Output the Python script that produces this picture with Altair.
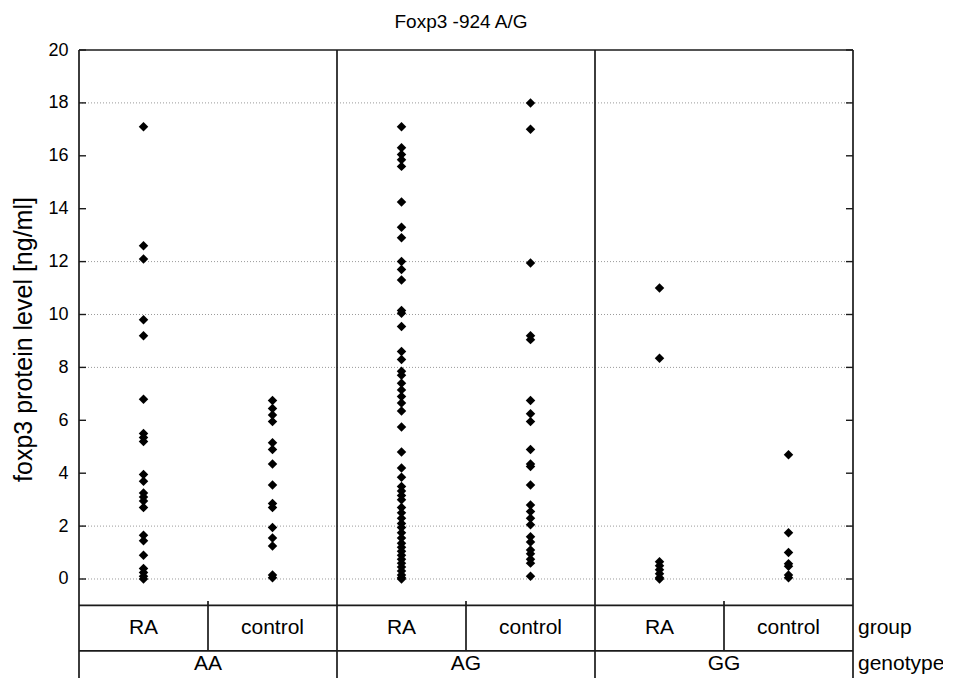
import altair as alt
import pandas as pd

TITLE = "Foxp3 -924 A/G"
Y_TITLE = "foxp3 protein level [ng/ml]"
genotypes = ["AA", "AG", "GG"]
groups = ["RA", "control"]
row_labels = ["group", "genotype"]

AA_RA = [17.1, 12.6, 12.1, 9.8, 9.2, 6.8, 5.5, 5.35, 5.2, 3.95, 3.7, 3.25, 3.1, 2.95,
         2.7, 1.65, 1.45, 0.9, 0.4, 0.25, 0.1, 0.0]
AA_control = [6.75, 6.45, 6.2, 5.95, 5.15, 4.9, 4.35, 3.55, 2.85, 2.7, 1.95, 1.55,
              1.25, 0.15, 0.05]
AG_RA = [17.1, 16.3, 16.05, 15.85, 15.6, 14.25, 13.3, 12.9, 12.0, 11.7, 11.3, 10.15,
         10.05, 9.55, 8.6, 8.3, 7.85, 7.7, 7.4, 7.15, 6.9, 6.65, 6.35, 5.75, 4.8, 4.2,
         3.85, 3.5, 3.33, 3.16, 3.0, 2.7, 2.5, 2.3, 2.1, 1.95, 1.75, 1.55, 1.35, 1.2,
         1.05, 0.9, 0.75, 0.6, 0.45, 0.3, 0.15, 0.05, 0.0]
AG_control = [18.0, 17.0, 11.95, 9.2, 9.05, 6.75, 6.25, 5.95, 4.9, 4.35, 4.25, 3.55,
              2.8, 2.55, 2.3, 2.05, 1.6, 1.4, 1.1, 0.95, 0.75, 0.6, 0.1]
GG_RA = [11.0, 8.35, 0.65, 0.5, 0.35, 0.2, 0.05, 0.0]
GG_control = [4.7, 1.75, 1.0, 0.58, 0.48, 0.15, 0.05]

y_ticks = [0, 2, 4, 6, 8, 10, 12, 14, 16, 18, 20]
grid_values = [0, 2, 8, 10, 12, 18]

# layout constants (data units of the shared scales)
Y_TOP = 20
Y_BOTTOM = -3.743
ROW1_TOP = -1.0
ROW1_BOTTOM = -2.72
ROW1_MID = -1.85
ROW2_MID = -3.2
TICK_UP = -0.83

series = {
    ("AA", "RA"): AA_RA, ("AA", "control"): AA_control,
    ("AG", "RA"): AG_RA, ("AG", "control"): AG_control,
    ("GG", "RA"): GG_RA, ("GG", "control"): GG_control,
}

pts = []
grp_rows = []
for gi, g in enumerate(genotypes):
    for ki, k in enumerate(groups):
        p = gi * 2 + ki + 0.5
        for v in series[(g, k)]:
            pts.append({"genotype": g, "group": k, "pos": p, "value": v})
        grp_rows.append({"pos": p, "value": ROW1_MID, "label": k})
pts = pd.DataFrame(pts)
grp_df = pd.DataFrame(grp_rows)
geno_df = pd.DataFrame({"pos": [1, 3, 5], "value": [ROW2_MID] * 3, "label": genotypes})
side_df = pd.DataFrame({"pos": [6, 6], "value": [ROW1_MID, ROW2_MID], "label": row_labels})
title_df = pd.DataFrame({"label": [TITLE]})

grid_df = pd.DataFrame({"value": grid_values, "pos": [0] * len(grid_values), "pos2": [6] * len(grid_values)})
tick_df = pd.DataFrame({"value": y_ticks})
vlines_df = pd.DataFrame({"pos": [0, 2, 4, 6], "value": [Y_BOTTOM] * 4, "value2": [Y_TOP] * 4})
sublines_df = pd.DataFrame({"pos": [1, 3, 5], "value": [TICK_UP] * 3, "value2": [ROW1_BOTTOM] * 3})
hlines_df = pd.DataFrame({"value": [Y_TOP, ROW1_TOP, ROW1_BOTTOM], "pos": [0, 0, 0], "pos2": [6, 6, 6]})

W = 774
H = 628
FONT = "Liberation Sans"
LINE = "#1a1a1a"

yaxis = alt.Axis(values=y_ticks, ticks=False, tickSize=0, domain=False, grid=False,
                 labelPadding=11, labelFontSize=18, labelFont=FONT, labelColor="black",
                 title=Y_TITLE, titleFontSize=25, titleFont=FONT, titleFontWeight="normal",
                 titleColor="black", titleAngle=270, titleAlign="center",
                 titleBaseline="alphabetic", titleX=-48, titleY=289)
Y = alt.Y("value:Q", scale=alt.Scale(domain=[Y_BOTTOM, Y_TOP], nice=False, zero=False), axis=yaxis)
X = alt.X("pos:Q", scale=alt.Scale(domain=[0, 6], nice=False, zero=False), axis=None)

grid = alt.Chart(grid_df).mark_rule(color="#9a9a9a", strokeDash=[1, 2], strokeWidth=1).encode(
    x=X, x2="pos2:Q", y=Y)
vlines = alt.Chart(vlines_df).mark_rule(color=LINE, strokeWidth=1.7).encode(x=X, y=Y, y2="value2:Q")
sublines = alt.Chart(sublines_df).mark_rule(color=LINE, strokeWidth=1.7).encode(x=X, y=Y, y2="value2:Q")
hlines = alt.Chart(hlines_df).mark_rule(color=LINE, strokeWidth=1.7).encode(x=X, x2="pos2:Q", y=Y)
lticks = alt.Chart(tick_df).mark_rule(color=LINE, strokeWidth=1.4).encode(
    x=alt.value(0), x2=alt.value(7), y=Y)
rticks = alt.Chart(tick_df).mark_rule(color=LINE, strokeWidth=1.4).encode(
    x=alt.value(W - 7), x2=alt.value(W), y=Y)
points = alt.Chart(pts).mark_point(shape="diamond", filled=True, color="black", opacity=1, size=90).encode(
    x=X, y=Y)
grp_text = alt.Chart(grp_df).mark_text(font=FONT, fontSize=21, color="black", baseline="middle").encode(
    x=X, y=Y, text="label:N")
geno_text = alt.Chart(geno_df).mark_text(font=FONT, fontSize=21, color="black", baseline="middle").encode(
    x=X, y=Y, text="label:N")
side_text = alt.Chart(side_df).mark_text(font=FONT, fontSize=21, color="black", baseline="middle",
                                         align="left", dx=5).encode(x=X, y=Y, text="label:N")
title = alt.Chart(title_df).mark_text(font=FONT, fontSize=19, color="black", baseline="alphabetic",
                                      align="center").encode(
    x=alt.value(W / 2 - 5), y=alt.value(-22), text="label:N")

chart = alt.layer(grid, vlines, sublines, hlines, lticks, rticks, points, grp_text, geno_text,
                  side_text, title).properties(
    width=W, height=H,
    autosize=alt.AutoSizeParams(type="none"),
    padding={"left": 71, "top": 42, "right": 90, "bottom": 0},
    background="white",
).configure_view(stroke=None)

chart.save("out.html", embed_options={"renderer": "svg", "actions": False})
